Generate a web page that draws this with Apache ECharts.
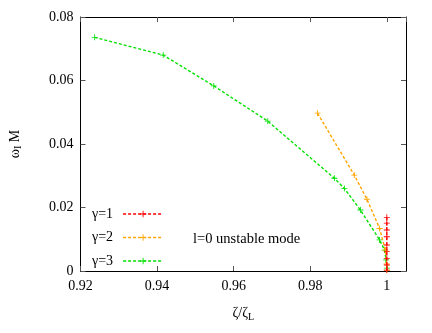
<!DOCTYPE html>
<html><head><meta charset="utf-8">
<script src="https://cdn.jsdelivr.net/npm/echarts@6/dist/echarts.min.js"></script>
<style>html,body{margin:0;padding:0;background:#fff}#c{width:432px;height:333px}</style>
</head><body><div id="c"></div>
<script>
var xTicks = [0.92, 0.94, 0.96, 0.98, 1.0];
var yTicks = [0, 0.02, 0.04, 0.06, 0.08];
var names = ['γ=1', 'γ=2', 'γ=3'];
var gamma1X = [0.99999, 0.99999, 0.99999, 0.99999, 0.99999, 0.99999, 0.99999, 0.99999, 0.99999];
var gamma1Y = [0.0169, 0.0151, 0.0129, 0.0108, 0.0082, 0.0061, 0.0040, 0.0019, 0.0003];
var gamma2X = [0.9819, 0.9915, 0.9948, 0.9981, 0.9996, 0.99995, 0.99999];
var gamma2Y = [0.0497, 0.0302, 0.0226, 0.0134, 0.0066, 0.0022, 0.0003];
var gamma3X = [0.9237, 0.9416, 0.9548, 0.9689, 0.9863, 0.9889, 0.9931, 0.9981, 0.9994, 0.9998, 0.99999];
var gamma3Y = [0.0736, 0.0680, 0.0583, 0.0472, 0.0292, 0.0260, 0.0192, 0.0098, 0.0066, 0.0035, 0.0009];
var colors = ['#ff0000', '#ffa500', '#00e000'];

function pairs(xs, ys) { return xs.map(function (x, i) { return [x, ys[i]]; }); }
var plus = 'path://M4.3,0H5.7V4.3H10V5.7H5.7V10H4.3V5.7H0V4.3H4.3Z';
var font = 'Liberation Serif';
var fs = 14;
var datas = [pairs(gamma1X, gamma1Y), pairs(gamma2X, gamma2Y), pairs(gamma3X, gamma3Y)];

var series = names.map(function (n, i) {
  return {
    name: n, type: 'line', data: datas[i], symbol: plus, symbolSize: 6,
    showAllSymbol: true, z: 3 - i + 2,
    lineStyle: { color: colors[i], width: 1.4, type: [3, 2] },
    itemStyle: { color: colors[i] },
    emphasis: { disabled: true }
  };
});

function fmtX(v) {
  for (var i = 0; i < xTicks.length; i++) if (Math.abs(v - xTicks[i]) < 1e-9) return xTicks[i] === 1 ? '1' : xTicks[i].toFixed(2);
  return '';
}
function fmtY(v) {
  for (var i = 0; i < yTicks.length; i++) if (Math.abs(v - yTicks[i]) < 1e-9) return yTicks[i] === 0 ? '0' : yTicks[i].toFixed(2);
  return '';
}
var tick = { show: true, inside: true, length: 5, lineStyle: { color: '#555', width: 1 } };
var axLine = { show: true, onZero: false, lineStyle: { color: '#000', width: 1 } };

var chart = echarts.init(document.getElementById('c'), null, { renderer: 'canvas' });
chart.setOption({
  animation: false,
  backgroundColor: '#fff',
  grid: { left: 79, right: 26, top: 17, bottom: 62, containLabel: false },
  xAxis: [{
    type: 'value', min: 0.92, max: 1.005, interval: 0.02, position: 'bottom',
    axisLine: axLine, axisTick: tick, splitLine: { show: false },
    axisLabel: { formatter: fmtX, showMaxLabel: false, color: '#000', fontFamily: font, fontSize: fs, margin: 8 },
    name: '{a|ζ/ζ}{s|L}', nameLocation: 'middle', nameGap: 34,
    nameTextStyle: { rich: { a: { fontFamily: font, fontSize: fs, color: '#000' }, s: { fontFamily: font, fontSize: 10, color: '#000', verticalAlign: 'bottom', padding: [7, 0, 0, 0] } } }
  }, {
    type: 'value', min: 0.92, max: 1.005, interval: 0.02, position: 'top',
    axisLine: axLine, axisTick: tick, splitLine: { show: false }, axisLabel: { show: false }
  }],
  yAxis: [{
    type: 'value', min: 0, max: 0.08, interval: 0.02, position: 'left',
    axisLine: axLine, axisTick: tick, splitLine: { show: false },
    axisLabel: { formatter: fmtY, color: '#000', fontFamily: font, fontSize: fs, margin: 7 },
    name: '{a|ω}{s|I}{a| M}', nameLocation: 'middle', nameGap: 57, nameRotate: 90,
    nameTextStyle: { rich: { a: { fontFamily: font, fontSize: fs, color: '#000' }, s: { fontFamily: font, fontSize: 10, color: '#000', padding: [7, 0, 0, 0] } } }
  }, {
    type: 'value', min: 0, max: 0.08, interval: 0.02, position: 'right',
    axisLine: axLine, axisTick: tick, splitLine: { show: false }, axisLabel: { show: false }
  }],
  legend: {
    data: names, orient: 'vertical', left: 92, top: 207, align: 'right', padding: [0, 0, 0, 0],
    itemWidth: 40, itemHeight: 8, itemGap: 9.5,
    textStyle: { fontFamily: font, fontSize: fs, color: '#000', padding: [0, 5, 0, 0] },
    itemStyle: { color: 'inherit' }, lineStyle: { type: 'inherit', width: 1.4 }
  },
  graphic: [{
    type: 'text', left: 193, top: 232,
    style: { text: 'l=0 unstable mode', fontFamily: font, fontSize: fs + 0.5, fill: '#000' }
  }],
  series: series
});
</script></body></html>
